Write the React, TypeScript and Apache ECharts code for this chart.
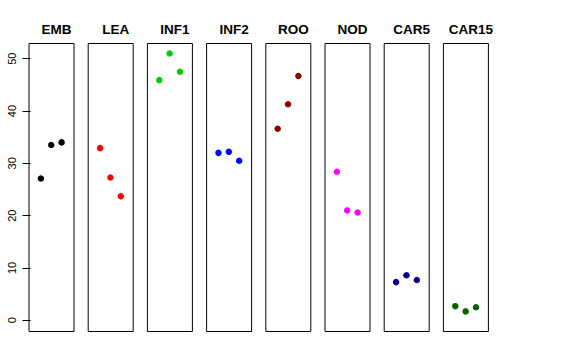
import React, { useEffect, useRef } from "react";
import * as echarts from "echarts";

const categories = ["EMB", "LEA", "INF1", "INF2", "ROO", "NOD", "CAR5", "CAR15"];
const colors = ["#000000", "#FF0000", "#00CD00", "#0000FF", "#8B0000", "#FF00FF", "#00008B", "#006400"];
const values: number[][] = [
  [27.1, 33.5, 34.0],
  [32.9, 27.3, 23.7],
  [45.9, 51.0, 47.5],
  [32.0, 32.2, 30.5],
  [36.6, 41.3, 46.7],
  [28.4, 21.0, 20.6],
  [7.3, 8.6, 7.7],
  [2.7, 1.7, 2.5],
];
const yTicks = [0, 10, 20, 30, 40, 50];

export default function App() {
  const ref = useRef<HTMLDivElement>(null);
  useEffect(() => {
    if (!ref.current) return;
    const chart = echarts.init(ref.current, undefined, { renderer: "svg" });
    const step = 59.2;
    const left0 = 29;
    const w = 45;
    const grids = categories.map((_, i) => ({
      left: left0 + i * step,
      top: 43.5,
      width: w,
      height: 288,
      show: true,
      borderColor: "#000",
      borderWidth: 1,
      backgroundColor: "transparent",
    }));
    const xAxes = categories.map((_, i) => ({
      type: "value",
      gridIndex: i,
      min: -0.15,
      max: 4.2,
      show: false,
    }));
    const yAxes = categories.map((_, i) => ({
      type: "value",
      gridIndex: i,
      min: -2.14,
      max: 52.9,
      show: i === 0,
      splitLine: { show: false },
      axisLine: { show: false },
      axisTick: {
        show: i === 0,
        length: 8,
        customValues: yTicks,
        lineStyle: { color: "#000", width: 1 },
      },
      axisLabel: {
        show: i === 0,
        customValues: yTicks,
        rotate: 90,
        margin: 12,
        fontSize: 11,
        color: "#000",
        fontFamily: "Liberation Sans, Arial, sans-serif",
      },
    }));
    const series = categories.map((c, i) => ({
      type: "scatter",
      name: c,
      xAxisIndex: i,
      yAxisIndex: i,
      symbol: "circle",
      symbolSize: 6.5,
      itemStyle: { color: colors[i], opacity: 1 },
      data: values[i].map((v, j) => [j + 1, v]),
    }));
    const titles = categories.map((c, i) => ({
      text: c,
      left: left0 + i * step + w / 2,
      top: 17,
      textAlign: "center",
      textStyle: {
        fontSize: 13.5,
        fontWeight: "bold",
        color: "#000",
        fontFamily: "Liberation Sans, Arial, sans-serif",
      },
    }));
    chart.setOption({
      animation: false,
      backgroundColor: "#fff",
      title: titles,
      grid: grids,
      xAxis: xAxes,
      yAxis: yAxes,
      series,
    });
    return () => chart.dispose();
  }, []);
  return <div ref={ref} style={{ width: 576, height: 360, position: "absolute", left: 0, top: 0 }} />;
}
